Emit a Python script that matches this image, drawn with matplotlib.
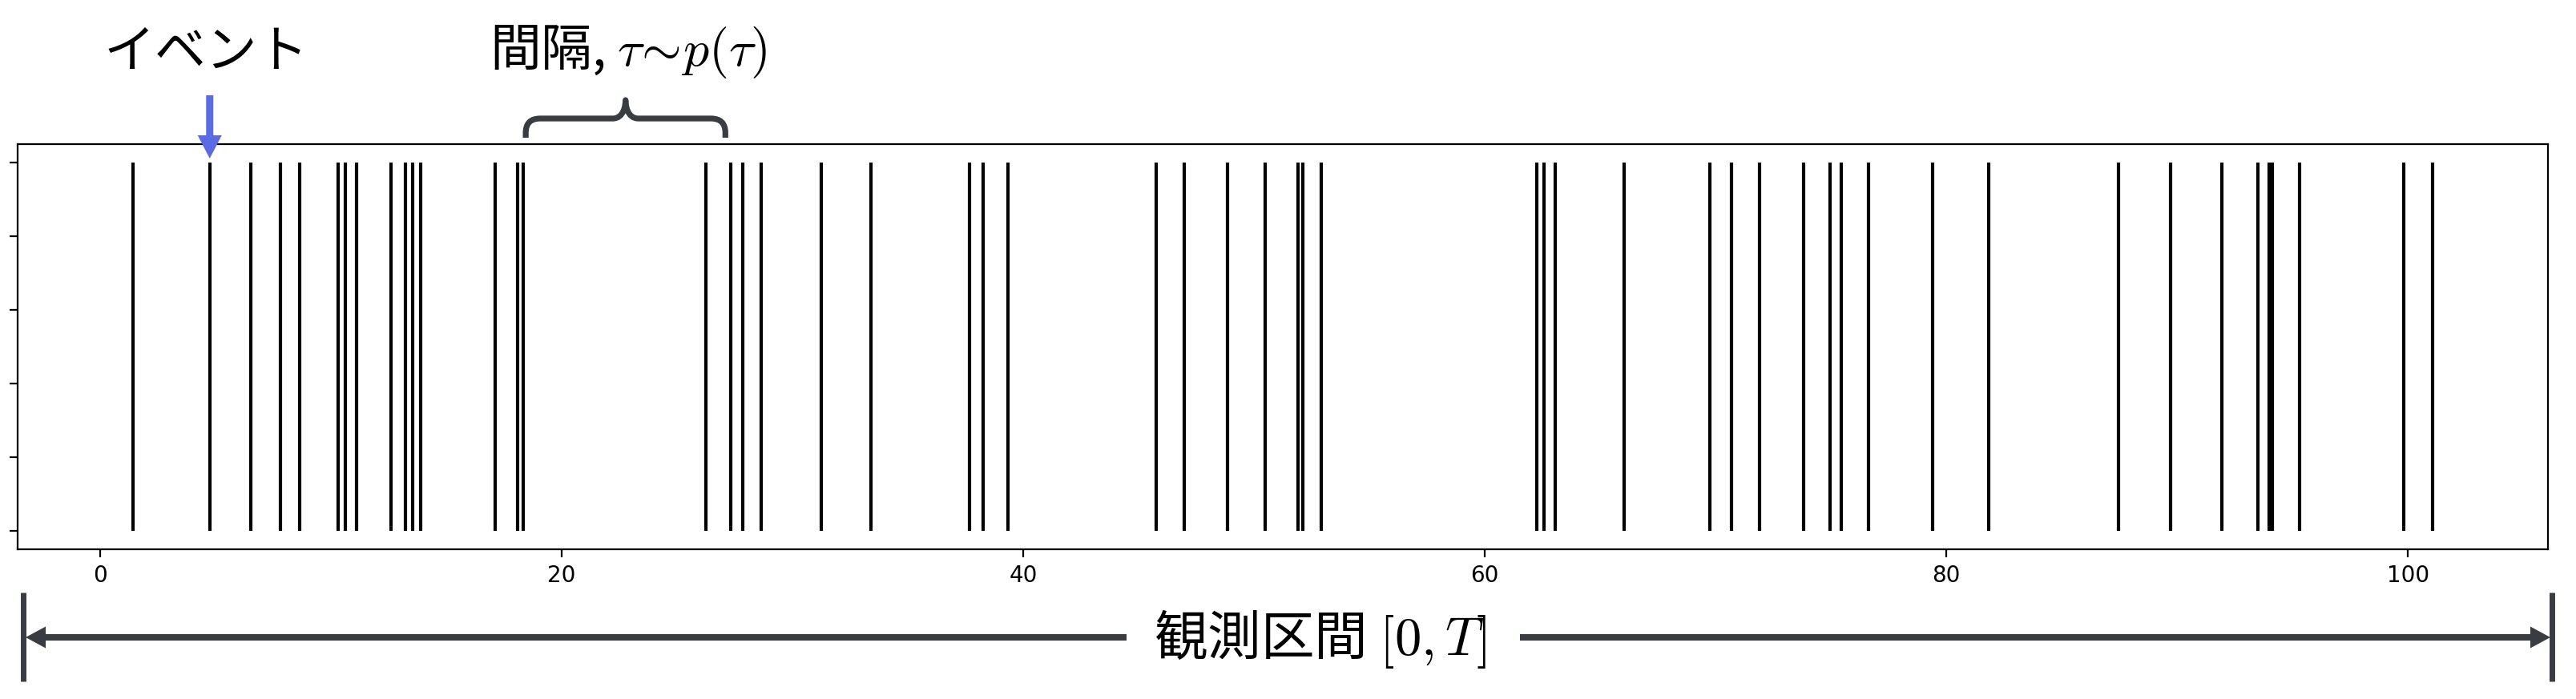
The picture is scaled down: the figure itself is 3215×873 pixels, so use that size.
import matplotlib
matplotlib.use('Agg')
import matplotlib.pyplot as plt
from matplotlib.patches import Polygon, PathPatch
from matplotlib.path import Path
from matplotlib.lines import Line2D

plt.rcParams['mathtext.fontset'] = 'cm'

# ---- data ----
event_times = [1.42, 4.76, 6.55, 7.84, 8.67, 10.33, 10.62, 11.11, 12.62, 13.25,
               13.56, 13.89, 17.11, 18.11, 18.35, 26.27, 27.33, 27.84, 28.64,
               31.27, 33.40, 37.69, 38.27, 39.35, 45.76, 46.98, 48.84, 50.47,
               51.91, 52.13, 52.93, 62.24, 62.55, 63.04, 66.04, 69.76, 70.69,
               71.89, 73.82, 74.96, 75.45, 76.62, 79.40, 81.84, 87.44, 89.71,
               91.93, 93.48, 93.98, 94.12, 95.31, 99.82, 101.08]
event_label = "イベント"
interval_label = "間隔, $\\tau\\!\\sim\\! p(\\tau)$"
window_label = "観測区間 $[0,T]$"
highlight_event = 1              # index of the event the blue arrow points at
brace_span = (18.45, 27.1)       # x-range (data units) covered by the brace

W, H, DPI = 3216, 873, 200
fig = plt.figure(figsize=(W / DPI, H / DPI), dpi=DPI)
ax = fig.add_axes([22 / W, (H - 685.5) / H, (3180 - 22) / W, (685.5 - 180) / H])

ax.vlines(event_times, 0, 1, colors='black', linewidths=1.5)
ax.set_yticks([0, 0.2, 0.4, 0.6, 0.8, 1.0])
ax.set_yticklabels([])
fig.canvas.draw()

dark = '#393c41'
blue = '#5b6be6'


def fx(px):
    return px / W


def fy(py):
    return 1 - py / H


def xpix(xd):
    return ax.transData.transform((xd, 0))[0]


def poly(pts, color):
    p = Polygon([(fx(x), fy(y)) for x, y in pts], closed=True,
                transform=fig.transFigure, facecolor=color, edgecolor='none')
    fig.add_artist(p)


# ---- blue arrow onto an event ----
xa = xpix(event_times[highlight_event])
poly([(xa - 4.5, 119), (xa + 4.5, 119), (xa + 4.5, 169), (xa + 15, 169),
      (xa, 198), (xa - 15, 169), (xa - 4.5, 169)], blue)
fig.text(fx(xpix(4.6)), fy(84), event_label, ha='center', va='baseline',
         fontsize=23, family=['Noto Sans CJK JP', 'DejaVu Sans'])

# ---- brace ----
x0, x1 = xpix(brace_span[0]), xpix(brace_span[1])
xm = (x0 + x1) / 2
yb, yh, yp = 172, 148, 125
r = 18
verts = [(x0, yb), (x0, yh + r), (x0, yh), (x0 + r, yh),
         (xm - 16, yh), (xm - 2, yh), (xm, yp + 6), (xm, yp),
         (xm, yp + 6), (xm + 2, yh), (xm + 16, yh),
         (x1 - r, yh), (x1, yh), (x1, yh + r), (x1, yb)]
codes = [Path.MOVETO, Path.LINETO, Path.CURVE3, Path.CURVE3,
         Path.LINETO, Path.CURVE4, Path.CURVE4, Path.CURVE4,
         Path.CURVE4, Path.CURVE4, Path.CURVE4,
         Path.LINETO, Path.CURVE3, Path.CURVE3, Path.LINETO]
path = Path([(fx(x), fy(y)) for x, y in verts], codes)
fig.add_artist(PathPatch(path, transform=fig.transFigure, facecolor='none',
                         edgecolor=dark, lw=2.6, capstyle='butt',
                         joinstyle='round'))
fig.text(fx(784), fy(82), interval_label, ha='center', va='baseline',
         fontsize=23, family=['Noto Sans CJK JP', 'DejaVu Sans'])

# ---- observation window arrow ----
ym = 796
for xb in (29.5, 3185.5):
    fig.add_artist(Line2D([fx(xb), fx(xb)], [fy(740), fy(851)],
                          transform=fig.transFigure, color=dark, lw=2.5,
                          solid_capstyle='butt'))
fig.add_artist(Line2D([fx(50), fx(1406)], [fy(ym), fy(ym)],
                      transform=fig.transFigure, color=dark, lw=2.9,
                      solid_capstyle='butt'))
fig.add_artist(Line2D([fx(1897), fx(3165)], [fy(ym), fy(ym)],
                      transform=fig.transFigure, color=dark, lw=2.9,
                      solid_capstyle='butt'))
poly([(32, ym), (57, ym - 13.5), (57, ym + 13.5)], dark)
poly([(3183, ym), (3158, ym - 13.5), (3158, ym + 13.5)], dark)
fig.text(fx(1648), fy(818), window_label, ha='center', va='baseline',
         fontsize=24, family=['Noto Sans CJK JP', 'DejaVu Sans'])

fig.savefig('out.png', dpi=DPI, facecolor='white')
